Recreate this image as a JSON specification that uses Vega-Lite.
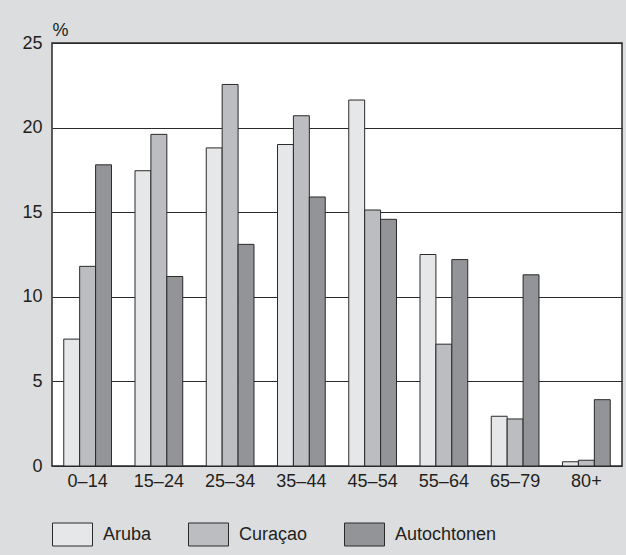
{
  "$schema": "https://vega.github.io/schema/vega-lite/v6.json",
  "width": 570,
  "height": 423,
  "autosize": {"type": "none"},
  "padding": {"left": 52, "top": 43, "right": 4, "bottom": 89},
  "background": "#dcdddf",
  "config": {
    "view": {"fill": "white", "stroke": "#2a2a2a", "strokeWidth": 1.5},
    "font": "Liberation Sans",
    "axis": {"labelFont": "Liberation Sans", "labelFontSize": 18, "labelColor": "#231f20", "titleFont": "Liberation Sans", "titleFontSize": 18, "titleColor": "#231f20", "titleFontWeight": "normal"},
    "legend": {"labelFont": "Liberation Sans", "labelFontSize": 18, "labelColor": "#231f20"}
  },
  "data": {
    "values": [
      {"age": "0–14", "group": "Aruba", "value": 7.5},
      {"age": "0–14", "group": "Curaçao", "value": 11.8},
      {"age": "0–14", "group": "Autochtonen", "value": 17.8},
      {"age": "15–24", "group": "Aruba", "value": 17.45},
      {"age": "15–24", "group": "Curaçao", "value": 19.6},
      {"age": "15–24", "group": "Autochtonen", "value": 11.2},
      {"age": "25–34", "group": "Aruba", "value": 18.8},
      {"age": "25–34", "group": "Curaçao", "value": 22.55},
      {"age": "25–34", "group": "Autochtonen", "value": 13.1},
      {"age": "35–44", "group": "Aruba", "value": 19.0},
      {"age": "35–44", "group": "Curaçao", "value": 20.7},
      {"age": "35–44", "group": "Autochtonen", "value": 15.9},
      {"age": "45–54", "group": "Aruba", "value": 21.63},
      {"age": "45–54", "group": "Curaçao", "value": 15.13},
      {"age": "45–54", "group": "Autochtonen", "value": 14.58},
      {"age": "55–64", "group": "Aruba", "value": 12.5},
      {"age": "55–64", "group": "Curaçao", "value": 7.2},
      {"age": "55–64", "group": "Autochtonen", "value": 12.2},
      {"age": "65–79", "group": "Aruba", "value": 2.94},
      {"age": "65–79", "group": "Curaçao", "value": 2.78},
      {"age": "65–79", "group": "Autochtonen", "value": 11.3},
      {"age": "80+", "group": "Aruba", "value": 0.25},
      {"age": "80+", "group": "Curaçao", "value": 0.34},
      {"age": "80+", "group": "Autochtonen", "value": 3.92}
    ]
  },
  "mark": {"type": "bar", "stroke": "#2a2a2a", "strokeWidth": 1},
  "encoding": {
    "x": {
      "field": "age", "type": "nominal", "sort": null,
      "scale": {"paddingInner": 0.33, "paddingOuter": 0.165},
      "axis": {"title": null, "labelAngle": 0, "ticks": false, "domain": false, "labelPadding": 6}
    },
    "xOffset": {"field": "group", "type": "nominal", "sort": ["Aruba", "Curaçao", "Autochtonen"], "scale": {"paddingInner": 0, "paddingOuter": 0}},
    "y": {
      "field": "value", "type": "quantitative",
      "scale": {"domain": [0, 25], "nice": false},
      "axis": {
        "title": "%", "titleAngle": 0, "titleX": 0, "titleY": -8, "titleAlign": "left", "titleBaseline": "alphabetic",
        "values": [0, 5, 10, 15, 20, 25], "ticks": false, "tickSize": 0, "domain": false, "labelPadding": 10,
        "grid": true, "gridColor": "#2a2a2a", "gridWidth": 1, "gridOpacity": 1
      }
    },
    "fill": {
      "field": "group", "type": "nominal", "sort": ["Aruba", "Curaçao", "Autochtonen"],
      "scale": {"domain": ["Aruba", "Curaçao", "Autochtonen"], "range": ["#e6e7e9", "#bcbdc0", "#939497"]},
      "legend": {
        "title": null, "orient": "none", "legendX": 0, "legendY": 471, "direction": "horizontal",
        "symbolType": "M-1,-0.575H1V0.575H-1Z", "symbolSize": 1600, "symbolStrokeColor": "#2a2a2a", "symbolStrokeWidth": 1,
        "symbolOpacity": 1, "labelOffset": 10, "columnPadding": 34
      }
    }
  }
}
